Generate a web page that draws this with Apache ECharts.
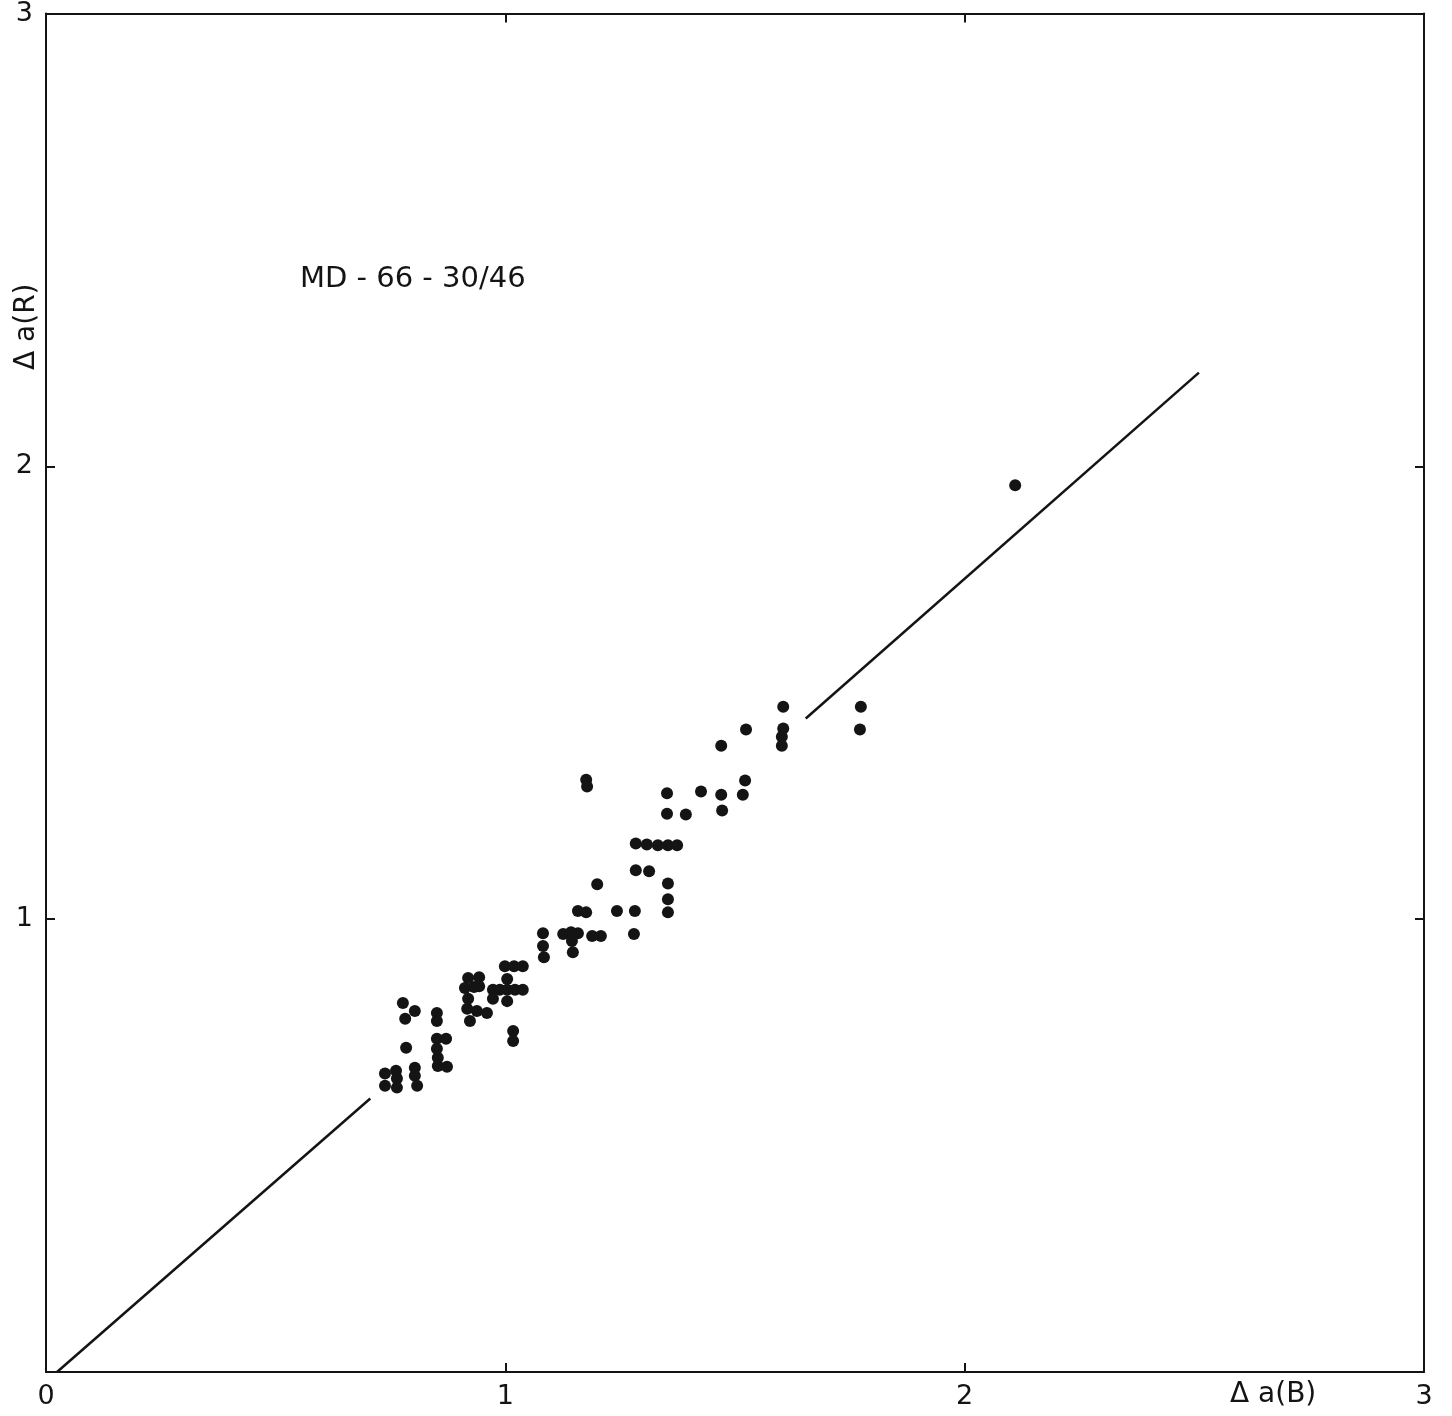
<!DOCTYPE html>
<html>
<head>
<meta charset="utf-8">
<script src="https://cdn.jsdelivr.net/npm/echarts@6/dist/echarts.min.js"></script>
<style>
html,body{margin:0;padding:0;background:#fff;}
#chart{width:1452px;height:1416px;}
</style>
</head>
<body>
<div id="chart"></div>
<script>
// Δa(B) values of the plotted points
var xVals = [
  0.738,0.738,0.762,0.764,0.764,0.803,0.803,0.808,
  0.777,0.803,0.782,0.784,
  0.851,0.851,0.851,0.871,0.851,0.853,0.853,0.873,
  0.919,0.943,0.912,0.943,0.932,0.919,0.917,0.938,0.960,0.923,
  0.999,1.019,1.038,1.004,0.973,0.988,1.004,1.021,1.038,0.973,1.004,1.017,1.017,
  1.082,1.082,1.084,1.126,1.143,1.158,1.145,1.147,1.189,1.208,
  1.158,1.176,1.200,1.243,1.282,1.280,
  1.284,1.313,1.284,1.308,1.332,1.354,1.374,1.354,1.354,1.354,
  1.176,1.178,1.352,1.426,1.470,1.522,1.517,1.352,1.393,1.472,
  1.470,1.524,1.605,1.605,1.602,1.602,1.774,1.772,2.110
];
// Δa(R) values of the plotted points
var yVals = [
  0.659,0.632,0.665,0.648,0.628,0.672,0.654,0.632,
  0.815,0.797,0.780,0.716,
  0.793,0.775,0.736,0.736,0.714,0.694,0.676,0.674,
  0.870,0.872,0.848,0.852,0.850,0.824,0.802,0.797,0.793,0.775,
  0.896,0.896,0.896,0.868,0.844,0.844,0.844,0.844,0.844,0.824,0.819,0.753,0.731,
  0.969,0.941,0.916,0.967,0.971,0.969,0.952,0.927,0.963,0.963,
  1.018,1.015,1.077,1.018,1.018,0.967,
  1.108,1.106,1.167,1.165,1.163,1.163,1.163,1.079,1.044,1.015,
  1.308,1.293,1.278,1.282,1.275,1.306,1.275,1.233,1.231,1.240,
  1.383,1.419,1.469,1.421,1.403,1.383,1.469,1.419,1.958
];
// fitted line, drawn in two pieces (gap through the point cloud)
var fitLineA = [[0.024, 0.0], [0.706, 0.604]];
var fitLineB = [[1.654, 1.443], [2.510, 2.207]];
var tickValues = [0, 1, 2, 3];
var xTitle = 'Δ a(B)';
var yTitle = 'Δ a(R)';
var sampleLabel = 'MD - 66 - 30/46';

var points = xVals.map(function (x, i) { return [x, yVals[i]]; });

var FONT = '"DejaVu Sans", "Liberation Sans", sans-serif';
var INK = '#141414';

var chart = echarts.init(document.getElementById('chart'), null, {renderer: 'canvas'});

function axisCommon(pos, showLabels) {
  return {
    type: 'value',
    position: pos,
    min: tickValues[0],
    max: tickValues[tickValues.length - 1],
    interval: 1,
    splitLine: {show: false},
    axisLine: {show: true, onZero: false, lineStyle: {color: INK, width: 2}},
    axisTick: {show: true, inside: true, length: 9, lineStyle: {color: INK, width: 2}},
    axisLabel: {show: showLabels}
  };
}

var xBottom = axisCommon('bottom', true);
xBottom.axisLabel = {show: true, color: INK, fontFamily: FONT, fontSize: 27, margin: 11};
var xTop = axisCommon('top', false);
var yLeft = axisCommon('left', true);
yLeft.axisLabel = {
  show: true, color: INK, fontFamily: FONT, fontSize: 27, margin: 13,
  padding: [16, 0, 0, 0],
  formatter: function (v) { return v === 0 ? '' : String(v); }
};
var yRight = axisCommon('right', false);

chart.setOption({
  animation: false,
  backgroundColor: '#ffffff',
  grid: {left: 46, right: 28, top: 10, bottom: 44, containLabel: false},
  xAxis: [xBottom, xTop],
  yAxis: [yLeft, yRight],
  graphic: [
    {type: 'text', left: 300, top: 265,
     style: {text: sampleLabel, fill: INK, font: '29px ' + FONT}},
    {type: 'text', left: 1230, top: 1381,
     style: {text: xTitle, fill: INK, font: '28px ' + FONT}},
    {type: 'text', x: 13, y: 370, rotation: Math.PI / 2,
     style: {text: yTitle, fill: INK, font: '28px ' + FONT}}
  ],
  series: [
    {type: 'line', data: fitLineA, showSymbol: false, symbol: 'none',
     lineStyle: {color: INK, width: 2.5}, silent: true},
    {type: 'line', data: fitLineB, showSymbol: false, symbol: 'none',
     lineStyle: {color: INK, width: 2.5}, silent: true},
    {type: 'scatter', data: points, symbol: 'circle', symbolSize: 12,
     itemStyle: {color: INK, opacity: 1}}
  ]
});
</script>
</body>
</html>
